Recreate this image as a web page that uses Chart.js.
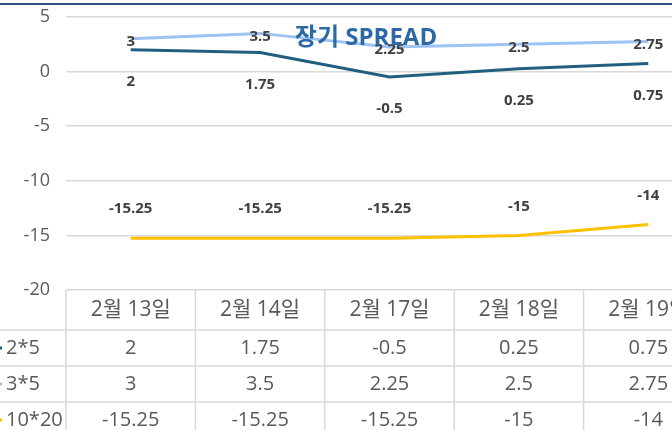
<!DOCTYPE html>
<html lang="ko">
<head>
  <meta charset="UTF-8">
  <title>장기 SPREAD</title>
  <style>
    body { margin: 0; background: #fff; overflow: hidden; }
    canvas { display: block; }
  </style>
</head>
<body>
<canvas id="spread" width="713" height="430"></canvas>

<script src="https://cdn.jsdelivr.net/npm/chart.js"></script>
<script>
// 데이터
const categories = ['2월 13일', '2월 14일', '2월 17일', '2월 18일', '2월 19일'];
const seriesNames = ['2*5', '3*5', '10*20'];
const spread2x5 = [2, 1.75, -0.5, 0.25, 0.75];
const spread3x5 = [3, 3.5, 2.25, 2.5, 2.75];
const spread10x20 = [-15.25, -15.25, -15.25, -15, -14];
const yMin = -20, yMax = 5, yStep = 5;

const colors = ['#215f80', '#9dc3f2', '#ffc000'];
const labelOffsets = [32, 3, -29];   // 데이터 레이블 위치 (px)
const FONT = "'Open Sans', 'Noto Sans CJK KR', sans-serif";

Chart.defaults.font.family = FONT;

// 상단 선 + 데이터 레이블 + 제목 + 데이터 표
const extras = {
  id: 'extras',
  beforeDraw(chart) {
    const ctx = chart.ctx;
    ctx.save();
    ctx.fillStyle = '#30507a';
    ctx.fillRect(0, 3, chart.width, 2);
    ctx.restore();
  },
  afterDatasetsDraw(chart) {
    const ctx = chart.ctx;
    const x = chart.scales.x, y = chart.scales.y;
    const area = chart.chartArea;
    ctx.save();

    // 데이터 레이블
    ctx.font = "bold 15px " + FONT;
    ctx.fillStyle = '#404040';
    ctx.textAlign = 'center';
    ctx.textBaseline = 'middle';
    chart.data.datasets.forEach((ds, i) => {
      ds.data.forEach((v, j) => {
        ctx.fillText(String(v), x.getPixelForValue(j), y.getPixelForValue(v) + labelOffsets[i]);
      });
    });

    // 제목
    ctx.font = "bold 24px " + FONT;
    ctx.fillStyle = '#2c69a5';
    ctx.fillText('장기 SPREAD', 366, 38);

    // 데이터 표
    const half = (x.getPixelForValue(1) - x.getPixelForValue(0)) / 2;
    const top = area.bottom;
    const headerH = 40, rowH = 36;
    const bottom = top + headerH + rowH * 3 + 10;
    ctx.strokeStyle = '#d9d9d9';
    ctx.lineWidth = 1.5;
    ctx.beginPath();
    for (let j = 0; j <= categories.length; j++) {
      const px = j < categories.length ? x.getPixelForValue(j) - half : x.getPixelForValue(j - 1) + half;
      ctx.moveTo(px, top);
      ctx.lineTo(px, bottom);
    }
    for (let r = 0; r < 3; r++) {
      const py = top + headerH + rowH * r;
      ctx.moveTo(0, py);
      ctx.lineTo(chart.width, py);
    }
    ctx.stroke();

    ctx.fillStyle = '#595959';
    ctx.font = "21px " + FONT;
    categories.forEach((c, j) => {
      ctx.fillText(c, x.getPixelForValue(j), top + headerH / 2);
    });
    ctx.font = "20px " + FONT;
    chart.data.datasets.forEach((ds, i) => {
      const cy = top + headerH + rowH * i + rowH / 2;
      ctx.textAlign = 'center';
      ds.data.forEach((v, j) => ctx.fillText(String(v), x.getPixelForValue(j), cy));
      // 범례 표지
      ctx.strokeStyle = colors[i];
      ctx.lineWidth = 3;
      ctx.beginPath();
      ctx.moveTo(-8, cy);
      ctx.lineTo(2, cy);
      ctx.stroke();
      ctx.textAlign = 'left';
      ctx.fillText(seriesNames[i], 6, cy);
    });
    ctx.restore();
  }
};

new Chart(document.getElementById('spread'), {
  type: 'line',
  data: {
    labels: categories,
    datasets: [
      { label: seriesNames[0], data: spread2x5, borderColor: colors[0] },
      { label: seriesNames[1], data: spread3x5, borderColor: colors[1] },
      { label: seriesNames[2], data: spread10x20, borderColor: colors[2] }
    ]
  },
  options: {
    responsive: false,
    animation: false,
    layout: { padding: { top: 17, bottom: 140, left: 0, right: 0 } },
    elements: {
      line: { borderWidth: 3, tension: 0 },
      point: { radius: 0 }
    },
    plugins: { legend: { display: false }, tooltip: { enabled: false } },
    scales: {
      x: { display: false, offset: true },
      y: {
        min: yMin, max: yMax,
        afterFit(scale) { scale.width = 66; scale.paddingTop = 0; scale.paddingBottom = 0; },
        ticks: { stepSize: yStep, color: '#595959', font: { size: 18 }, padding: 16 },
        grid: { color: '#d9d9d9', lineWidth: 1.5, drawTicks: false },
        border: { display: false }
      }
    }
  },
  plugins: [extras]
});
</script>
</body>
</html>
